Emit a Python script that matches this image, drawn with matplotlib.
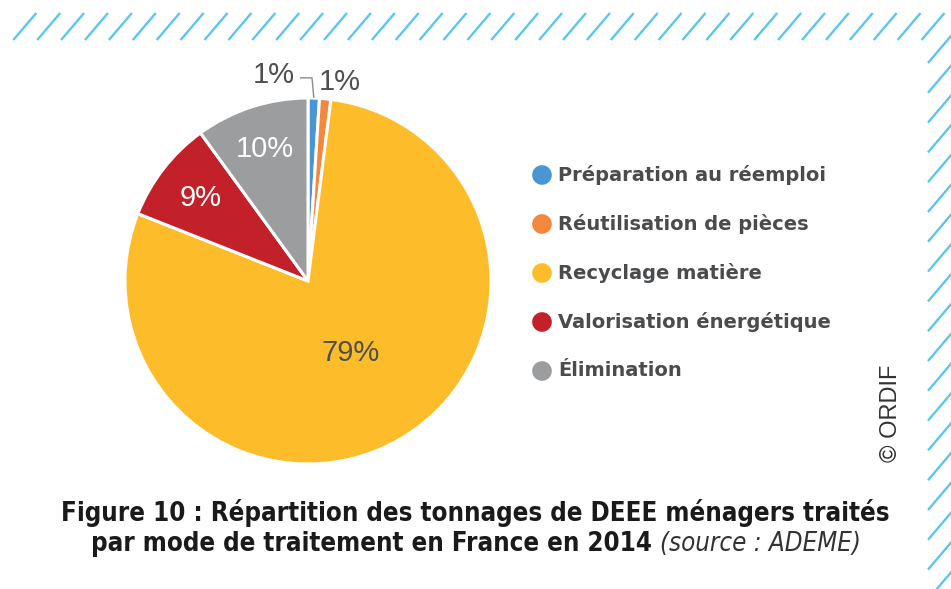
import matplotlib
matplotlib.use("Agg")
import matplotlib.pyplot as plt
import numpy as np

# ---- data ----
categories = ["Préparation au réemploi", "Réutilisation de pièces", "Recyclage matière",
              "Valorisation énergétique", "Élimination"]
values = [1, 1, 79, 9, 10]
pct_labels = ["1%", "1%", "79%", "9%", "10%"]
colors = ["#4a96d3", "#f5873c", "#fdbd2a", "#c3212a", "#9c9d9f"]
caption_line1 = "Figure 10 : Répartition des tonnages de DEEE ménagers traités"
caption_line2_bold = "par mode de traitement en France en 2014"
caption_line2_ital = "(source : ADEME)"
credit = "© ORDIF"

W, H = 951, 589
fig = plt.figure(figsize=(W / 100, H / 100), dpi=100)
fig.patch.set_facecolor("white")

# overlay axes in pixel coordinates
ax0 = fig.add_axes([0, 0, 1, 1])
ax0.set_xlim(0, W)
ax0.set_ylim(H, 0)
ax0.axis("off")

hatch_col = "#5cc6ee"
# top hatch
for k in range(39):
    xb = 13.3 + 23.9 * k
    ax0.plot([xb, xb + 23], [40, 13], color=hatch_col, lw=1.7, solid_capstyle="butt")
# right hatch
for k in range(19):
    yb = 63 + 29.8 * k
    ax0.plot([928, 928 + 40], [yb, yb - 40 * 26.7 / 22.7], color=hatch_col, lw=1.7,
             solid_capstyle="butt")

# ---- pie ----
cx, cy, R = 308, 281, 183
pax = fig.add_axes([(cx - R) / W, (H - cy - R) / H, 2 * R / W, 2 * R / H])
wedges, _ = pax.pie(values, colors=colors, startangle=90, counterclock=False,
                    radius=1, wedgeprops=dict(edgecolor="white", linewidth=2.2))
pax.set_xlim(-1, 1)
pax.set_ylim(-1, 1)
pax.set_aspect("equal")
pax.axis("off")

pct_font = dict(family=["Liberation Sans", "DejaVu Sans"], fontweight="normal", fontsize=21)
dist = [None, None, 0.46, 0.74, 0.76]
tcol = [None, None, "#4f4f4f", "white", "white"]
for i, w in enumerate(wedges):
    if dist[i] is None:
        continue
    ang = np.deg2rad((w.theta1 + w.theta2) / 2)
    pax.text(dist[i] * np.cos(ang), dist[i] * np.sin(ang), pct_labels[i],
             ha="center", va="center", color=tcol[i], **pct_font)

# outside labels for the two small slices
pax.text(-0.186, 1.125, pct_labels[0], ha="center", va="center", color="#4f4f4f", **pct_font)
pax.text(0.172, 1.085, pct_labels[1], ha="center", va="center", color="#4f4f4f", **pct_font)
ang0 = np.deg2rad((wedges[0].theta1 + wedges[0].theta2) / 2)
pax.plot([-0.04, 0.022, np.cos(ang0) * 1.0], [1.11, 1.11, np.sin(ang0) * 1.005],
         color="#8a8a8a", lw=1.0, clip_on=False)

# ---- legend ----
leg_y = [175, 224, 273, 322, 371]
for i, (lab, c) in enumerate(zip(categories, colors)):
    ax0.scatter([542], [leg_y[i]], s=200, color=c, edgecolors="none")
    ax0.text(558, leg_y[i], lab, ha="left", va="center", color="#4a4b4d",
             fontsize=14.0, fontweight="bold", family=["DejaVu Sans"])

# ---- credit ----
ax0.text(891, 413, credit, rotation=90, ha="center", va="center", color="#333333",
         fontsize=17, family=["Liberation Sans", "DejaVu Sans"], fontweight="normal")

# ---- caption ----
cap_font = dict(family=["Liberation Sans Narrow", "DejaVu Sans"], fontweight="bold",
                fontsize=18.5, color="#1a1a1a", stretch="condensed")
ax0.text(475, 513, caption_line1, ha="center", va="center", **cap_font)
t_b = ax0.text(0, 544, caption_line2_bold, ha="left", va="center", **cap_font)
t_i = ax0.text(0, 544, caption_line2_ital, ha="left", va="center",
               family=["Liberation Sans Narrow", "DejaVu Sans"], fontstyle="italic",
               fontsize=18.5, color="#333333", stretch="condensed")
r = fig.canvas.get_renderer()
wb = t_b.get_window_extent(r).width
wi = t_i.get_window_extent(r).width
gap = 9
total = wb + gap + wi
x_start = 476 - total / 2
t_b.set_x(x_start)
t_i.set_x(x_start + wb + gap)

fig.savefig("out.png", dpi=100, facecolor="white")
